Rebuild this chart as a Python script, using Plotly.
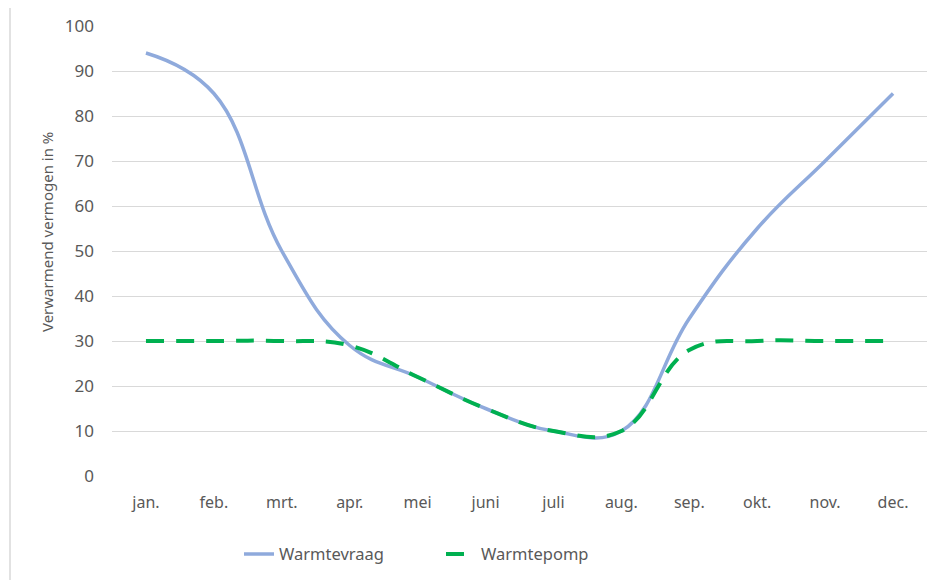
import plotly.graph_objects as go

months = ["jan.", "feb.", "mrt.", "apr.", "mei", "juni", "juli", "aug.", "sep.", "okt.", "nov.", "dec."]
warmtevraag = [94, 85, 50, 29, 22, 15, 10, 10, 35, 55, 70, 85]
warmtepomp = [30, 30, 30, 29, 22, 15, 10, 10, 28, 30, 30, 30]
y_ticks = [0, 10, 20, 30, 40, 50, 60, 70, 80, 90, 100]

FONT = "Noto Sans"
GREY = "#595959"

fig = go.Figure()
fig.add_trace(go.Scatter(
    x=months, y=warmtevraag, name="Warmtevraag", mode="lines",
    line=dict(color="#8FAADC", width=3.5, shape="spline", smoothing=1.2),
))
fig.add_trace(go.Scatter(
    x=months, y=warmtepomp, name="Warmtepomp", mode="lines",
    line=dict(color="#00B050", width=4, shape="spline", smoothing=1.2, dash="18px,12px"),
))

# page body has an 8px margin; work in screen pixels and subtract it
OFF = 8
W, H = 940 - OFF, 580 - OFF
L, T = 112 - OFF, 25.5 - OFF
PW, PH = 815, 451
R = W - L - PW
B = H - T - PH


def px(xs):
    return (xs - OFF - L) / PW


def py(ys):
    return (T + PH - (ys - OFF)) / PH


fig.update_layout(
    width=W, height=H,
    margin=dict(l=L, r=R, t=T, b=B, autoexpand=False),
    paper_bgcolor="white", plot_bgcolor="white",
    font=dict(family=FONT, size=16, color=GREY),
    showlegend=True,
    legend=dict(
        orientation="h", x=px(239), xanchor="left",
        y=py(555), yanchor="middle",
        font=dict(family=FONT, size=16.5, color=GREY),
        entrywidth=157, bgcolor="rgba(0,0,0,0)",
    ),
    xaxis=dict(
        type="category", categoryorder="array", categoryarray=months,
        range=[-0.5, len(months) - 0.5],
        showgrid=False, zeroline=False, showline=False, ticks="",
        tickfont=dict(family=FONT, size=16, color=GREY),
        ticklabelstandoff=15,
    ),
    yaxis=dict(
        range=[0, 100], tickvals=y_ticks, ticktext=[str(v) for v in y_ticks],
        showgrid=True, gridcolor="#D9D9D9", gridwidth=1,
        zeroline=False, showline=False, ticks="",
        tickfont=dict(family=FONT, size=17, color=GREY),
        ticklabelstandoff=17,
    ),
    shapes=[dict(
        type="rect", xref="paper", yref="paper",
        x0=px(10), x1=px(960),
        y0=py(620), y1=py(5),
        line=dict(color="#D9D9D9", width=1.5), fillcolor="rgba(0,0,0,0)", layer="below",
    )],
    annotations=[dict(
        text="Verwarmend vermogen in %", textangle=-90,
        xref="paper", yref="paper",
        x=px(47), y=py(232),
        xanchor="center", yanchor="middle", showarrow=False,
        font=dict(family=FONT, size=15, color=GREY),
    )],
)

fig.write_html("out.html")
